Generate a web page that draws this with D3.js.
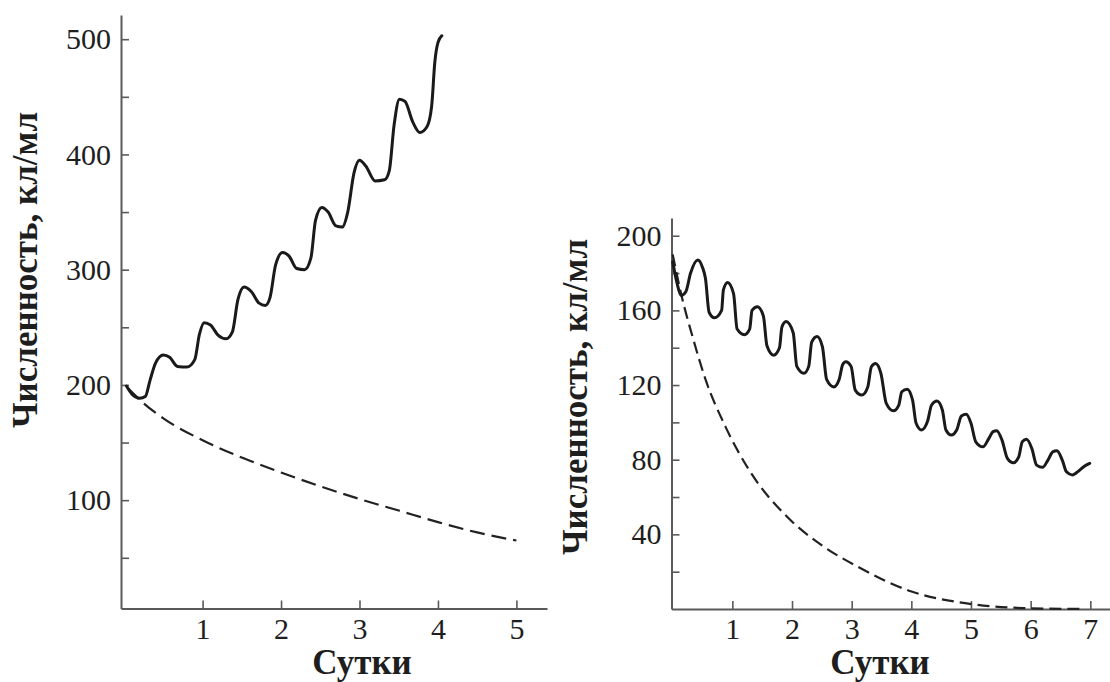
<!DOCTYPE html>
<html>
<head>
<meta charset="utf-8">
<script src="https://cdn.jsdelivr.net/npm/d3@7"></script>
<style>
  body { margin: 0; background: #fff; }
  svg text { font-family: "Liberation Serif", "Times New Roman", serif; fill: #1e1e1e; }
  .axis path, .axis line { stroke: #5a5a5a; }
  .axis path { stroke-width: 2; }
  .axis line { stroke-width: 1.6; }
  .axis text { font-size: 30px; }
  .title { font-size: 35px; font-weight: bold; }
</style>
</head>
<body>
<svg id="chart" width="1110" height="682"></svg>
<script>
// Two panels: left = growth (5 days), right = decline (7 days)
// values are [days, cells/ml]

var growthSolid = [[0.03,199],[0.1,192],[0.2,188.5],[0.27,190],[0.33,204],[0.4,219],[0.5,226],
  [0.58,224],[0.68,216],[0.8,215.5],[0.9,222],[0.96,244],[1.02,254],[1.1,252],[1.2,243],[1.3,240],
  [1.38,246],[1.45,274],[1.53,285],[1.62,281],[1.72,271],[1.8,269],[1.86,276],[1.93,304],[2.02,315],
  [2.1,312],[2.2,301],[2.3,300],[2.38,310],[2.44,343],[2.52,354],[2.6,350],[2.7,338],[2.78,337],
  [2.85,350],[2.93,384],[3.0,395],[3.08,390],[3.2,377],[3.32,378],[3.38,386],[3.44,425],[3.51,448],
  [3.58,446],[3.68,428],[3.77,419],[3.86,424],[3.92,442],[3.96,480],[4.0,497],[4.05,503]];

var growthDashed = [[0.05,197],[0.25,184],[0.5,171],[1,152],[1.5,137],[2,124],[2.5,112],
  [3,101],[3.5,91],[4,81],[4.5,72],[5,65]];

var declineSolid = [[0.0,186],[0.07,175],[0.14,168],[0.22,170],[0.3,180],[0.42,187],[0.5,183],
  [0.55,177],[0.61,159],[0.7,156],[0.82,160],[0.85,171],[0.92,175],[1.02,169],[1.08,150],[1.2,147],
  [1.29,150],[1.33,160],[1.42,162],[1.52,157],[1.58,141],[1.69,136],[1.79,140],[1.83,151],[1.9,154],
  [2.02,148],[2.08,130],[2.2,126.3],[2.28,130],[2.33,143],[2.42,146],[2.51,140.5],[2.58,123],
  [2.7,119],[2.79,123],[2.85,131],[2.9,132.5],[2.99,130],[3.06,117.3],[3.17,114.6],[3.27,119],
  [3.33,129.8],[3.4,131.6],[3.49,126.3],[3.58,110.2],[3.7,106.2],[3.79,109.3],[3.84,116.4],
  [3.93,117.8],[4.02,112],[4.08,99.5],[4.17,95.9],[4.27,100.4],[4.34,109.3],[4.43,111.4],
  [4.52,106.6],[4.58,95.9],[4.67,93.2],[4.76,95.9],[4.84,103.4],[4.92,104.3],[5.0,99.5],
  [5.08,89.6],[5.2,86.9],[5.3,91.4],[5.37,95],[5.43,95.5],[5.52,90.5],[5.61,80.7],[5.71,78.3],
  [5.8,81.5],[5.86,89.6],[5.93,90.9],[6.02,86],[6.1,77.1],[6.2,75.9],[6.29,79.8],[6.37,84.2],
  [6.44,84.8],[6.53,79.8],[6.6,73.5],[6.7,71.8],[6.81,74.1],[6.9,76.5],[6.99,78]];

var declineDashed = [[0,190],[0.14,169],[0.35,144],[0.55,123],[0.88,98],[1.29,74],[1.93,49],
  [2.46,35],[3.11,22.5],[3.99,9.5],[4.93,3],[5.87,0.5],[6.9,0]];

var leftDayTicks = [1, 2, 3, 4, 5];
var leftCountTicks = [50, 100, 150, 200, 250, 300, 350, 400, 450, 500];
var leftCountLabels = [100, 200, 300, 400, 500];

var rightDayTicks = [1, 2, 3, 4, 5, 6, 7];
var rightCountTicks = [20, 40, 60, 80, 100, 120, 140, 160, 180, 200];
var rightCountLabels = [40, 80, 120, 160, 200];

var yTitle = "Численность, кл/мл";
var xTitle = "Сутки";

var svg = d3.select("#chart");

function panel(opt) {
  var x = d3.scaleLinear().domain(opt.xDomain).range(opt.xRange);
  var y = d3.scaleLinear().domain(opt.yDomain).range(opt.yRange);
  var g = svg.append("g");

  g.append("g")
      .attr("class", "axis")
      .attr("transform", "translate(0," + opt.yRange[0] + ")")
      .call(d3.axisBottom(x)
        .tickValues(opt.xTicks)
        .tickSizeInner(-8)
        .tickSizeOuter(0)
        .tickPadding(9)
        .tickFormat(d3.format("d")));

  g.append("g")
      .attr("class", "axis")
      .attr("transform", "translate(" + opt.xRange[0] + ",0)")
      .call(d3.axisLeft(y)
        .tickValues(opt.yTicks)
        .tickSizeInner(-8)
        .tickSizeOuter(0)
        .tickPadding(10)
        .tickFormat(function(d) { return opt.yLabels.indexOf(d) !== -1 ? d : ""; }));

  var line = d3.line()
      .x(function(d) { return x(d[0]); })
      .y(function(d) { return y(d[1]); })
      .curve(d3.curveMonotoneX);

  g.append("path")
      .datum(opt.dashed)
      .attr("d", line)
      .attr("fill", "none")
      .attr("stroke", "#222")
      .attr("stroke-width", 2.2)
      .attr("stroke-dasharray", opt.dash);

  g.append("path")
      .datum(opt.solid)
      .attr("d", line)
      .attr("fill", "none")
      .attr("stroke", "#1a1a1a")
      .attr("stroke-width", 3)
      .attr("stroke-linejoin", "round")
      .attr("stroke-linecap", "round");

  g.append("text")
      .attr("class", "title")
      .attr("text-anchor", "middle")
      .attr("x", opt.xTitlePos[0])
      .attr("y", opt.xTitlePos[1])
      .text(xTitle);

  g.append("text")
      .attr("class", "title")
      .attr("text-anchor", "middle")
      .attr("transform", "translate(" + opt.yTitlePos[0] + "," + opt.yTitlePos[1] + ") rotate(-90)")
      .text(yTitle);
}

panel({
  xDomain: [-0.04, 5.39], xRange: [121, 547],
  yDomain: [6, 521], yRange: [608.5, 15],
  xTicks: leftDayTicks, yTicks: leftCountTicks, yLabels: leftCountLabels,
  solid: growthSolid, dashed: growthDashed, dash: "15,7",
  xTitlePos: [362, 674], yTitlePos: [37, 270]
});

panel({
  xDomain: [-0.02, 7.33], xRange: [671.5, 1110],
  yDomain: [0, 209.5], yRange: [609, 218],
  xTicks: rightDayTicks, yTicks: rightCountTicks, yLabels: rightCountLabels,
  solid: declineSolid, dashed: declineDashed, dash: "12,6",
  xTitlePos: [880, 674], yTitlePos: [587, 397]
});
</script>
</body>
</html>
